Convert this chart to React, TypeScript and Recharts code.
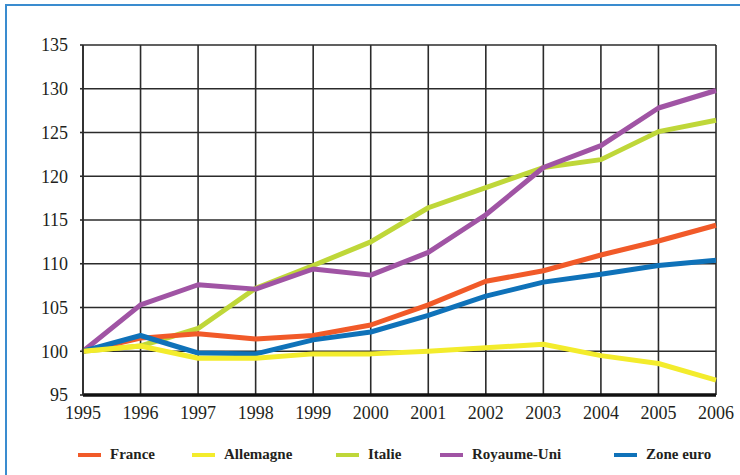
import React from "react";
import {
  CartesianGrid,
  Legend,
  Line,
  LineChart,
  XAxis,
  YAxis,
} from "recharts";

const years = [1995, 1996, 1997, 1998, 1999, 2000, 2001, 2002, 2003, 2004, 2005, 2006];
const france = [100, 101.5, 102, 101.4, 101.8, 103, 105.3, 108, 109.2, 111, 112.6, 114.4];
const allemagne = [100, 100.6, 99.2, 99.2, 99.7, 99.7, 100, 100.4, 100.8, 99.5, 98.6, 96.7];
const italie = [100, 100.6, 102.6, 107.2, 109.8, 112.5, 116.4, 118.7, 121, 121.9, 125.1, 126.4];
const royaumeUni = [100, 105.3, 107.6, 107.1, 109.4, 108.7, 111.3, 115.6, 121, 123.5, 127.8, 129.8];
const zoneEuro = [100, 101.8, 99.8, 99.7, 101.3, 102.2, 104.1, 106.3, 107.9, 108.8, 109.8, 110.4];
const yTicks = [95, 100, 105, 110, 115, 120, 125, 130, 135];

const series = [
  { key: "france", name: "France", color: "#f15a29", legendX: 78 },
  { key: "allemagne", name: "Allemagne", color: "#f3ec2c", legendX: 192 },
  { key: "italie", name: "Italie", color: "#bfd739", legendX: 336 },
  { key: "royaumeUni", name: "Royaume-Uni", color: "#a054a4", legendX: 440 },
  { key: "zoneEuro", name: "Zone euro", color: "#0f72b9", legendX: 614 },
];

// drawing order: later lines sit on top
const drawOrder = ["italie", "royaumeUni", "france", "zoneEuro", "allemagne"];

const data = years.map((year, i) => ({
  year,
  france: france[i],
  allemagne: allemagne[i],
  italie: italie[i],
  royaumeUni: royaumeUni[i],
  zoneEuro: zoneEuro[i],
}));

const serif = "Liberation Serif, DejaVu Serif, serif";

const LegendRow = () => (
  <div style={{ position: "relative", width: 740, height: 50, fontFamily: serif }}>
    {series.map((s) => (
      <div
        key={s.key}
        style={{
          position: "absolute",
          left: s.legendX,
          top: 21,
          display: "flex",
          alignItems: "center",
          whiteSpace: "nowrap",
        }}
      >
        <span
          style={{
            display: "inline-block",
            width: 23,
            height: 4,
            background: s.color,
            marginRight: 9,
          }}
        />
        <span style={{ fontSize: 15, fontWeight: "bold", color: "#231f20" }}>
          {s.name}
        </span>
      </div>
    ))}
  </div>
);

export default function App() {
  return (
    <div
      style={{
        position: "absolute",
        left: 0,
        top: 0,
        width: 740,
        height: 475,
        background: "#fff",
        overflow: "hidden",
        fontFamily: serif,
      }}
    >
      <div
        style={{
          position: "absolute",
          left: 5,
          top: 4,
          width: 740,
          height: 480,
          borderLeft: "2px solid #3a8ccf",
          borderTop: "2px solid #3a8ccf",
        }}
      />
      <LineChart
        width={740}
        height={475}
        data={data}
        margin={{ top: 45, right: 24, left: 23, bottom: 0 }}
        style={{ position: "absolute", left: 0, top: 0, fontFamily: serif }}
      >
        <CartesianGrid stroke="#2b2b2b" strokeWidth={1.6} />
        <XAxis
          dataKey="year"
          type="number"
          domain={[1995, 2006]}
          ticks={years}
          height={30}
          tickLine={false}
          tickMargin={5}
          axisLine={{ stroke: "#111", strokeWidth: 3.5 }}
          tick={{ fill: "#231f20", fontSize: 18, fontFamily: serif }}
        />
        <YAxis
          domain={[95, 135]}
          ticks={yTicks}
          width={60}
          tickSize={3}
          tickMargin={12}
          tickLine={{ stroke: "#2b2b2b", strokeWidth: 1.6 }}
          axisLine={{ stroke: "#2b2b2b", strokeWidth: 1.6 }}
          tick={{ fill: "#231f20", fontSize: 18, fontFamily: serif }}
        />
        <Legend
          verticalAlign="bottom"
          height={50}
          wrapperStyle={{ left: 0, width: 740 }}
          content={<LegendRow />}
        />
        {drawOrder.map((key) => {
          const s = series.find((x) => x.key === key)!;
          return (
            <Line
              key={s.key}
              dataKey={s.key}
              name={s.name}
              stroke={s.color}
              strokeWidth={5}
              dot={false}
              activeDot={false}
              strokeLinejoin="round"
              isAnimationActive={false}
            />
          );
        })}
      </LineChart>
    </div>
  );
}
